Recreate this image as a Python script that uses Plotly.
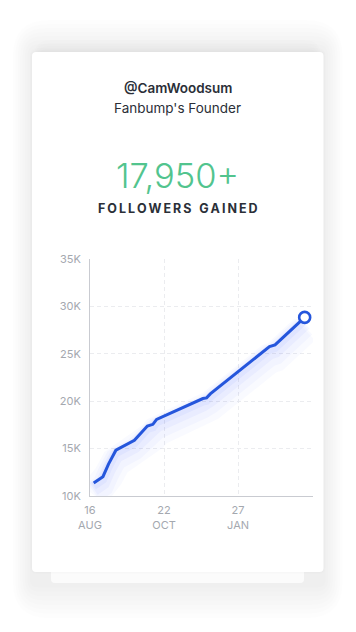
import plotly.graph_objects as go

# ---------------- data ----------------
t_index = [2, 7, 10, 14, 24, 31, 34, 36, 61, 63, 65, 97, 100, 116]
followers = [11380, 12040, 13370, 14830, 15880, 17380, 17560, 18080,
             20280, 20350, 20770, 25760, 25940, 28840]
x_tickvals = [0, 40, 80]
x_ticktext = ["16<br>AUG", "22<br>OCT", "27<br>JAN"]
y_tickvals = [10000, 15000, 20000, 25000, 30000, 35000]
y_ticktext = ["10K", "15K", "20K", "25K", "30K", "35K"]
handle = "@CamWoodsum"
role = "Fanbump's Founder"
headline = "17,950+"
subtitle = "FOLLOWERS GAINED"

# ---------------- geometry (page pixels) ----------------
PAGE_W, PAGE_H = 356, 632
BODY = 8                       # default page margin around the figure
W, H = PAGE_W - BODY, PAGE_H - BODY
PL, PR, PT, PB = 90, 313, 259, 496   # plot area in page px
X_RANGE = [0, 120.5]
Y_RANGE = [10000, 35000]
BLUE = "#2556dc"
GREEN = "#52c48e"
FONT = "Inter, 'Noto Sans', sans-serif"

def px(x, y):
    # page pixel position -> plotly "paper" coordinates (relative to plot area)
    return (x - PL) / (PR - PL), (PB - y) / (PB - PT)

def rrect(x0, y0, x1, y1, r):
    def P(x, y):
        X, Y = px(x, y)
        return f"{X:.5f},{Y:.5f}"
    d = f"M{P(x0 + r, y0)} L{P(x1 - r, y0)} Q{P(x1, y0)} {P(x1, y0 + r)} "
    d += f"L{P(x1, y1 - r)} Q{P(x1, y1)} {P(x1 - r, y1)} "
    d += f"L{P(x0 + r, y1)} Q{P(x0, y1)} {P(x0, y1 - r)} "
    d += f"L{P(x0, y0 + r)} Q{P(x0, y0)} {P(x0 + r, y0)} Z"
    return d

shapes = []
# soft shadow behind cards
N = 8
for i in range(N, 0, -1):
    e = i * 4
    shapes.append(dict(type="path", xref="paper", yref="paper", layer="below",
                       path=rrect(32 - e * 0.6, 52 - e, 323.5 + e * 0.6, 583 + e * 1.1, 4 + e),
                       fillcolor="rgba(0,0,0,0.006)", line=dict(width=0)))
# slightly stronger shadow along the top
for i in range(4, 0, -1):
    e = i * 3
    shapes.append(dict(type="path", xref="paper", yref="paper", layer="below",
                       path=rrect(40 - e * 0.5, 52 - e, 315 + e * 0.5, 120, 4 + e),
                       fillcolor="rgba(20,30,40,0.007)", line=dict(width=0)))
# back card
shapes.append(dict(type="path", xref="paper", yref="paper", layer="below",
                   path=rrect(51, 540, 304, 583, 4),
                   fillcolor="#fbfbfb", line=dict(width=0)))
# front card shadow edge
for i in range(2, 0, -1):
    shapes.append(dict(type="path", xref="paper", yref="paper", layer="below",
                       path=rrect(32 - i, 52 - i, 323.5 + i, 572 + i, 4 + i),
                       fillcolor="rgba(0,0,0,0.008)", line=dict(width=0)))
# front card
shapes.append(dict(type="path", xref="paper", yref="paper", layer="below",
                   path=rrect(32, 52, 323.5, 572, 4),
                   fillcolor="#ffffff", line=dict(width=0)))

fig = go.Figure()

# glow under the line (offset downwards by a few pixels)
units_per_px = (Y_RANGE[1] - Y_RANGE[0]) / (PB - PT)
for width, alpha, off in [(30, 0.03, 12), (22, 0.04, 9), (14, 0.05, 6), (8, 0.06, 3)]:
    fig.add_trace(go.Scatter(
        x=t_index, y=[v - off * units_per_px for v in followers],
        mode="lines", line=dict(color=f"rgba(70,100,255,{alpha})", width=width),
        hoverinfo="skip", showlegend=False))

fig.add_trace(go.Scatter(
    x=t_index, y=followers, mode="lines",
    line=dict(color=BLUE, width=3), showlegend=False))

fig.add_trace(go.Scatter(
    x=[t_index[-1]], y=[followers[-1]], mode="markers",
    marker=dict(size=11, color="#ffffff", line=dict(color=BLUE, width=2.6)),
    cliponaxis=False, showlegend=False))

axis_common = dict(showline=True, linecolor="#c9cbd1", linewidth=1, zeroline=False,
                   showgrid=True, gridcolor="#ebecef", griddash="4px,3px", gridwidth=1,
                   ticks="", tickfont=dict(family=FONT, size=11, color="#a4a8af"),
                   fixedrange=True)

fig.update_layout(
    width=W, height=H, autosize=False,
    margin=dict(l=PL - BODY, r=PAGE_W - PR, t=PT - BODY, b=PAGE_H - PB, pad=0),
    paper_bgcolor="#ffffff", plot_bgcolor="rgba(0,0,0,0)",
    shapes=shapes,
    xaxis=dict(range=X_RANGE, tickmode="array", tickvals=x_tickvals, ticktext=x_ticktext,
               ticklabelstandoff=4, **axis_common),
    yaxis=dict(range=Y_RANGE, tickmode="array", tickvals=y_tickvals, ticktext=y_ticktext,
               ticklabelstandoff=6, **axis_common),
)

def ann(text, y, size, color, weight=400, family=FONT):
    X, Y = px(177.5, y)
    fig.add_annotation(text=text, x=X, y=Y, xref="paper", yref="paper",
                       xanchor="center", yanchor="middle", showarrow=False,
                       font=dict(family=family, size=size, color=color, weight=weight))

ann(handle, 88, 13.5, "#2b2f38", 600)
ann(role, 108, 13.5, "#2b2f38", 400)
ann(headline, 175, 34.5, GREEN, 300)
spaced = "\u2009".join(list(subtitle)).replace("\u2009 \u2009", "\u2009\u2009\u2009\u2009")
ann(spaced, 209, 12.5, "#2b2f38", 700)

fig.write_html("out.html")
